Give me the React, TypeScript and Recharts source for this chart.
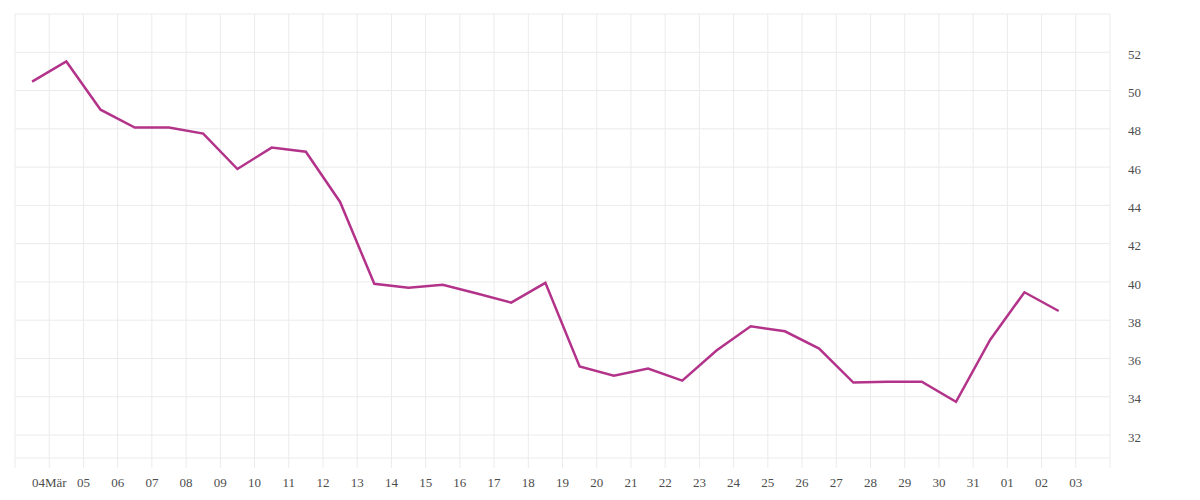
import { CartesianGrid, Line, LineChart, XAxis, YAxis } from "recharts";

// one label per day tick, Mar 3 .. Apr 4 (outer two unlabelled)
const dayLabels = [
  "", "04Mär", "05", "06", "07", "08", "09", "10", "11", "12", "13", "14",
  "15", "16", "17", "18", "19", "20", "21", "22", "23", "24", "25", "26",
  "27", "28", "29", "30", "31", "01", "02", "03", "",
];

const values = [
  50.47, 51.52, 49.0, 48.07, 48.07, 47.75, 45.9, 47.02, 46.8, 44.18, 39.9,
  39.7, 39.85, 39.4, 38.92, 39.95, 35.58, 35.1, 35.47, 34.84, 36.42, 37.68,
  37.42, 36.52, 34.74, 34.79, 34.79, 33.74, 36.98, 39.46, 38.48,
];

const yTicks = [30.8, 32, 34, 36, 38, 40, 42, 44, 46, 48, 50, 52, 54];
const yLabeled = [32, 34, 36, 38, 40, 42, 44, 46, 48, 50, 52];

const GRID = "#ebebeb";
const TEXT = "#4d4d4d";

// points sit in the middle of each day slot
const data = values.map((v, i) => ({ day: i + 0.5, value: v }));
const xTicks = dayLabels.map((_, i) => i);

export default function App() {
  return (
    <div style={{ width: 1200, height: 500 }}>
      <style>{"body{margin:0}"}</style>
      <LineChart
        data={data}
        height={500}
        margin={{ top: 14, right: 0, bottom: 0, left: 15 }}
        style={{ fontFamily: "'Liberation Serif', serif" }}
        width={1200}
      >
        <CartesianGrid stroke={GRID} strokeWidth={1} />
        <XAxis
          axisLine={false}
          dataKey="day"
          domain={[0, dayLabels.length - 1]}
          fontSize={13}
          height={42}
          interval={0}
          stroke={GRID}
          tick={{ fill: TEXT }}
          tickFormatter={(v) => dayLabels[v] ?? ""}
          tickLine={{ stroke: GRID }}
          tickMargin={10}
          tickSize={10}
          ticks={xTicks}
          type="number"
        />
        <YAxis
          axisLine={false}
          domain={[30.8, 54]}
          fontSize={13}
          interval={0}
          orientation="right"
          tick={{ fill: TEXT, textAnchor: "start", dy: 2 }}
          tickFormatter={(v) => (yLabeled.includes(v) ? String(v) : "")}
          tickLine={false}
          tickMargin={12}
          ticks={yTicks}
          type="number"
          width={90}
        />
        <Line
          dataKey="value"
          dot={false}
          isAnimationActive={false}
          stroke="#b3338a"
          strokeWidth={2.5}
          type="linear"
        />
      </LineChart>
    </div>
  );
}
